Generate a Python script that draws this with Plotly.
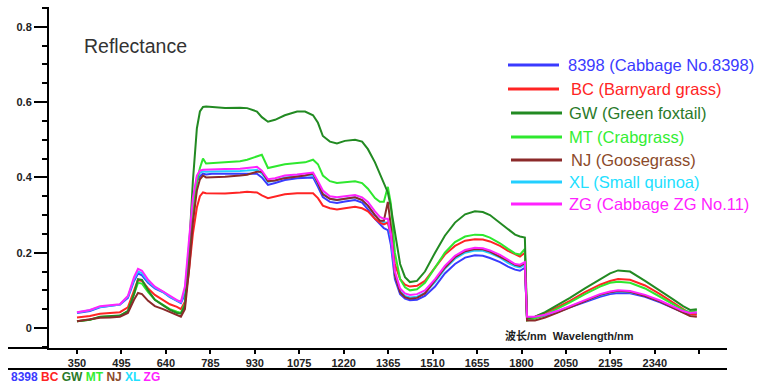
import plotly.graph_objects as go

# ---------------- data ----------------
# positions along the (broken) wavelength axis, in axis units
x_pos = [350, 392, 425, 458, 490, 516, 536, 549, 562, 582, 604, 631, 653, 676, 689, 702,
         715, 728, 741, 751, 761, 771, 790, 833, 882, 905, 937, 953, 973, 996, 1028, 1068,
         1094, 1120, 1136, 1152, 1175, 1198, 1224, 1257, 1280, 1299, 1322, 1338, 1351, 1364,
         1374, 1387, 1404, 1420, 1436, 1459, 1485, 1518, 1550, 1583, 1616, 1648, 1674, 1697,
         1730, 1756, 1779, 1795, 1811,
         1818, 1844, 1877, 1916, 1958, 2007, 2056, 2089, 2115, 2154, 2203, 2252, 2291, 2327,
         2350, 2372]

r_8398 = [0.040, 0.045, 0.055, 0.058, 0.062, 0.080, 0.125, 0.145, 0.140, 0.120, 0.105, 0.095,
          0.082, 0.072, 0.066, 0.090, 0.190, 0.300, 0.390, 0.403, 0.410, 0.408, 0.410, 0.410,
          0.410, 0.410, 0.410, 0.400, 0.380, 0.385, 0.393, 0.398, 0.400, 0.400, 0.375, 0.348,
          0.335, 0.332, 0.336, 0.340, 0.333, 0.315, 0.290, 0.275, 0.265, 0.260, 0.220, 0.130,
          0.090, 0.078, 0.074, 0.075, 0.085, 0.110, 0.145, 0.170, 0.187, 0.193, 0.192, 0.186,
          0.175, 0.163, 0.155, 0.152, 0.160,
          0.027, 0.028, 0.033, 0.042, 0.055, 0.070, 0.083, 0.090, 0.093, 0.092, 0.083, 0.068,
          0.055, 0.042, 0.038, 0.040]

r_BC = [0.028, 0.032, 0.038, 0.040, 0.042, 0.055, 0.100, 0.128, 0.125, 0.105, 0.088, 0.075,
        0.063, 0.056, 0.050, 0.070, 0.150, 0.250, 0.320, 0.350, 0.360, 0.358, 0.358, 0.357,
        0.360, 0.362, 0.360, 0.352, 0.345, 0.350, 0.355, 0.358, 0.358, 0.358, 0.345, 0.325,
        0.318, 0.315, 0.318, 0.322, 0.318, 0.310, 0.290, 0.280, 0.275, 0.280, 0.250, 0.170,
        0.130, 0.115, 0.110, 0.112, 0.125, 0.160, 0.195, 0.218, 0.232, 0.236, 0.235, 0.230,
        0.218, 0.205, 0.196, 0.190, 0.200,
        0.025, 0.030, 0.040, 0.055, 0.072, 0.095, 0.115, 0.125, 0.130, 0.128, 0.113, 0.090,
        0.070, 0.050, 0.038, 0.035]

r_GW = [0.018, 0.022, 0.030, 0.031, 0.033, 0.045, 0.090, 0.130, 0.128, 0.100, 0.075, 0.060,
        0.048, 0.040, 0.038, 0.060, 0.200, 0.390, 0.530, 0.575, 0.587, 0.588, 0.587, 0.584,
        0.585, 0.584, 0.575, 0.560, 0.548, 0.553, 0.565, 0.575, 0.575, 0.565, 0.545, 0.510,
        0.495, 0.490, 0.497, 0.500, 0.495, 0.475, 0.440, 0.410, 0.385, 0.360, 0.320, 0.250,
        0.170, 0.135, 0.122, 0.125, 0.150, 0.200, 0.245, 0.280, 0.302, 0.310, 0.308, 0.300,
        0.280, 0.262, 0.248, 0.243, 0.240,
        0.025, 0.030, 0.042, 0.060, 0.080, 0.105, 0.130, 0.145, 0.153, 0.150, 0.125, 0.100,
        0.078, 0.058, 0.048, 0.050]

r_MT = [0.018, 0.022, 0.029, 0.030, 0.032, 0.045, 0.090, 0.120, 0.118, 0.095, 0.075, 0.062,
        0.050, 0.043, 0.040, 0.065, 0.170, 0.300, 0.390, 0.425, 0.450, 0.437, 0.438, 0.440,
        0.443, 0.447, 0.455, 0.460, 0.425, 0.430, 0.435, 0.438, 0.440, 0.447, 0.435, 0.405,
        0.390, 0.385, 0.387, 0.390, 0.385, 0.370, 0.345, 0.335, 0.335, 0.375, 0.330, 0.200,
        0.130, 0.108, 0.100, 0.103, 0.120, 0.160, 0.200, 0.228, 0.243, 0.248, 0.247, 0.240,
        0.225, 0.210, 0.198, 0.195, 0.210,
        0.020, 0.025, 0.035, 0.050, 0.068, 0.090, 0.110, 0.120, 0.123, 0.120, 0.105, 0.083,
        0.065, 0.048, 0.042, 0.047]

r_NJ = [0.018, 0.022, 0.027, 0.028, 0.030, 0.040, 0.075, 0.093, 0.090, 0.072, 0.058, 0.050,
        0.042, 0.035, 0.030, 0.050, 0.150, 0.280, 0.365, 0.395, 0.405, 0.400, 0.400, 0.402,
        0.405, 0.407, 0.415, 0.415, 0.390, 0.392, 0.398, 0.402, 0.405, 0.410, 0.385, 0.355,
        0.343, 0.340, 0.343, 0.347, 0.340, 0.325, 0.300, 0.285, 0.285, 0.335, 0.270, 0.140,
        0.095, 0.082, 0.078, 0.080, 0.092, 0.125, 0.160, 0.188, 0.204, 0.210, 0.209, 0.203,
        0.190, 0.178, 0.168, 0.165, 0.172,
        0.020, 0.020, 0.028, 0.040, 0.055, 0.072, 0.088, 0.095, 0.098, 0.096, 0.085, 0.070,
        0.055, 0.040, 0.032, 0.030]

r_XL = [0.041, 0.047, 0.056, 0.059, 0.062, 0.083, 0.130, 0.150, 0.146, 0.124, 0.108, 0.096,
        0.083, 0.073, 0.068, 0.100, 0.215, 0.330, 0.400, 0.412, 0.416, 0.415, 0.416, 0.416,
        0.417, 0.418, 0.420, 0.410, 0.388, 0.392, 0.400, 0.403, 0.405, 0.407, 0.383, 0.357,
        0.343, 0.340, 0.343, 0.347, 0.340, 0.325, 0.300, 0.285, 0.280, 0.280, 0.240, 0.140,
        0.098, 0.085, 0.081, 0.083, 0.093, 0.122, 0.157, 0.184, 0.200, 0.206, 0.205, 0.199,
        0.187, 0.173, 0.164, 0.161, 0.168,
        0.028, 0.029, 0.034, 0.044, 0.057, 0.073, 0.087, 0.094, 0.097, 0.095, 0.086, 0.071,
        0.057, 0.044, 0.039, 0.041]

r_ZG = [0.042, 0.048, 0.058, 0.060, 0.063, 0.085, 0.135, 0.157, 0.152, 0.128, 0.110, 0.097,
        0.085, 0.074, 0.070, 0.110, 0.230, 0.345, 0.405, 0.418, 0.420, 0.420, 0.422, 0.422,
        0.423, 0.425, 0.428, 0.418, 0.395, 0.398, 0.405, 0.408, 0.410, 0.413, 0.390, 0.365,
        0.350, 0.347, 0.350, 0.353, 0.347, 0.335, 0.310, 0.295, 0.290, 0.290, 0.250, 0.150,
        0.105, 0.092, 0.088, 0.090, 0.100, 0.130, 0.165, 0.192, 0.207, 0.213, 0.212, 0.206,
        0.194, 0.180, 0.170, 0.168, 0.175,
        0.030, 0.030, 0.035, 0.045, 0.058, 0.075, 0.090, 0.097, 0.100, 0.098, 0.088, 0.073,
        0.058, 0.045, 0.040, 0.042]

codes = ["8398", "BC", "GW", "MT", "NJ", "XL", "ZG"]
names = ["8398 (Cabbage No.8398)", "BC (Barnyard grass)", "GW (Green foxtail)",
         "MT (Crabgrass)", "NJ (Goosegrass)", "XL (Small quinoa)", "ZG (Cabbage ZG No.11)"]
colors = ["#3a3aff", "#ff2424", "#228a22", "#2ee82e", "#8b2a2a", "#22cfff", "#ff22ff"]
text_colors = ["#3a3aff", "#ff2424", "#2a7a2a", "#33ee33", "#8b4a2a", "#22e0ff", "#ff22ff"]
series = [r_8398, r_BC, r_GW, r_MT, r_NJ, r_XL, r_ZG]

tick_labels = ["350", "495", "640", "785", "930", "1075", "1220", "1365", "1510",
               "1655", "1800", "2050", "2195", "2340", ""]
y_ticks = [0, 0.2, 0.4, 0.6, 0.8]

# ---------------- layout geometry ----------------
W, H = 760, 383
L, R, T, B = 49, 33, 7, 35
pw, ph = W - L - R, H - T - B

def px(xp):
    return (xp - L) / pw

def py(yp):
    return (H - B - yp) / ph

tick_step = 145
tick_vals = [350 + tick_step * i for i in range(len(tick_labels))]
upp = tick_step / 44.45
x_range = [350 - (77 - L) * upp, 350 + (W - R - 77) * upp]
y_per_px = 0.2 / 75.3
y_range = [-(H - B - 328) * y_per_px, (328 - T) * y_per_px]

fig = go.Figure()
draw_order = [0, 5, 1, 3, 2, 4, 6]
for i in draw_order:
    fig.add_trace(go.Scatter(x=x_pos, y=series[i], mode="lines", name=names[i],
                             line=dict(color=colors[i], width=2), showlegend=False))

# manual legend
leg_y = [65, 89, 113, 137, 160, 182, 204]
leg_x0 = [508, 508, 511, 511, 511, 511, 511]
leg_tx = [566, 569, 567, 567, 569, 567, 567]
shapes = []
annotations = []
for i in range(len(names)):
    shapes.append(dict(type="line", xref="paper", yref="paper",
                       x0=px(leg_x0[i]), x1=px(leg_x0[i] + 51), y0=py(leg_y[i]), y1=py(leg_y[i]),
                       line=dict(color=colors[i], width=3)))
    annotations.append(dict(xref="paper", yref="paper", x=px(leg_tx[i]), y=py(leg_y[i]),
                            text=names[i], showarrow=False, xanchor="left", yanchor="middle",
                            font=dict(family="Liberation Sans, Arial", size=16.5,
                                      color=text_colors[i])))

# extra axis lines
shapes.append(dict(type="line", xref="paper", yref="paper", x0=px(8), x1=px(L),
                   y0=0, y1=0, line=dict(color="black", width=2)))
shapes.append(dict(type="line", xref="paper", yref="paper", x0=px(8), x1=1,
                   y0=py(369), y1=py(369), line=dict(color="black", width=2)))

annotations.append(dict(xref="paper", yref="paper", x=px(82), y=py(46), text="Reflectance",
                        showarrow=False, xanchor="left", yanchor="middle",
                        font=dict(family="Liberation Sans, Arial", size=19.5, color="#333333")))
annotations.append(dict(xref="paper", yref="paper", x=px(503), y=py(335),
                        text="波长/nm  Wavelength/nm", showarrow=False,
                        xanchor="left", yanchor="middle",
                        font=dict(family="Liberation Sans, Noto Sans CJK SC", size=11,
                                  color="#222222", weight="bold")))
bottom_text = " ".join(f"<span style='color:{c}'>{k}</span>" for k, c in zip(codes, text_colors))
annotations.append(dict(xref="paper", yref="paper", x=px(9), y=py(377), text=bottom_text,
                        showarrow=False, xanchor="left", yanchor="middle",
                        font=dict(family="Liberation Sans, Arial", size=12, weight="bold")))

fig.update_layout(
    width=W, height=H, margin=dict(l=L, r=R, t=T, b=B),
    plot_bgcolor="white", paper_bgcolor="white",
    shapes=shapes, annotations=annotations, showlegend=False,
    xaxis=dict(range=x_range, tickvals=tick_vals, ticktext=tick_labels,
               showline=True, linecolor="black", linewidth=2, ticks="outside",
               ticklen=4, tickwidth=2, tickcolor="black", showgrid=False, zeroline=False,
               tickfont=dict(family="Liberation Sans, Arial", size=11, color="#222222",
                             weight="bold")),
    yaxis=dict(range=y_range, tickvals=y_ticks, ticktext=[f"{v:g}" for v in y_ticks],
               showline=True, linecolor="black", linewidth=2, ticks="outside",
               ticklen=13, tickwidth=2, tickcolor="black", showgrid=False, zeroline=False,
               tickfont=dict(family="Liberation Sans, Arial", size=11, color="#222222",
                             weight="bold"),
               minor=dict(dtick=0.05, tick0=0, ticks="outside", ticklen=5, tickwidth=2,
                          tickcolor="black", showgrid=False)),
)

fig.write_html("out.html")
